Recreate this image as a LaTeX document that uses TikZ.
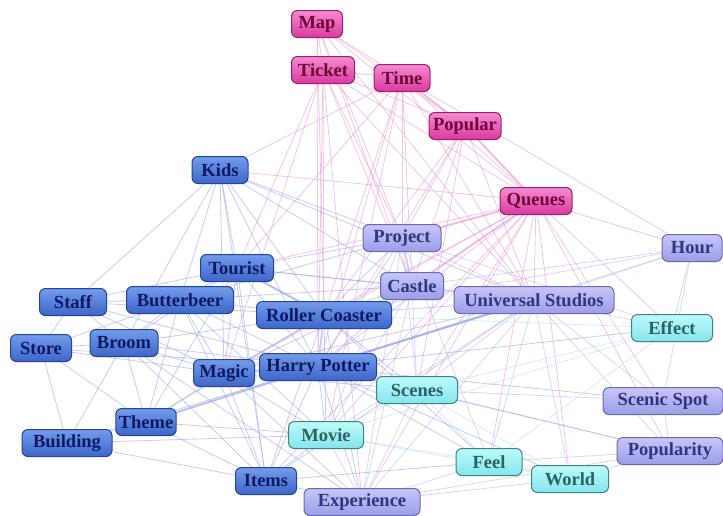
\documentclass[tikz,border=0pt]{standalone}
\usepackage{fontspec}
\setmainfont{Liberation Serif}
\usetikzlibrary{backgrounds}
\definecolor{pinktop}{HTML}{F58AD2}
\definecolor{pinkbot}{HTML}{DA3A9E}
\definecolor{pinkline}{HTML}{9C1E6E}
\definecolor{pinktext}{HTML}{6E0638}
\definecolor{bluetop}{HTML}{739CEC}
\definecolor{bluebot}{HTML}{3D66C9}
\definecolor{blueline}{HTML}{22449C}
\definecolor{bluetext}{HTML}{0B1A62}
\definecolor{lavtop}{HTML}{C6C6FA}
\definecolor{lavbot}{HTML}{9C9DE8}
\definecolor{lavline}{HTML}{6A6AAE}
\definecolor{lavtext}{HTML}{33347E}
\definecolor{cyantop}{HTML}{BDFAFA}
\definecolor{cyanbot}{HTML}{84E5EC}
\definecolor{cyanline}{HTML}{3E8484}
\definecolor{cyantext}{HTML}{2C6262}
\definecolor{edgepink}{HTML}{E696D4}
\definecolor{edgeblue}{HTML}{8E9BE6}
\definecolor{edgelav}{HTML}{B4AEEA}
\definecolor{edgecyan}{HTML}{A6DDF0}
\tikzset{
        word/.style={rounded corners=6pt, line width=1pt, inner xsep=3pt, inner ysep=0pt,
                minimum height=27pt, font=\fontsize{18.5}{20}\selectfont\bfseries},
        pinkword/.style={word, top color=pinktop, bottom color=pinkbot, draw=pinkline, text=pinktext},
        blueword/.style={word, top color=bluetop, bottom color=bluebot, draw=blueline, text=bluetext},
        lavword/.style={word, top color=lavtop, bottom color=lavbot, draw=lavline, text=lavtext},
        cyanword/.style={word, top color=cyantop, bottom color=cyanbot, draw=cyanline, text=cyantext},
        pinkedge/.style={draw=edgepink, line width=0.8pt, opacity=0.55},
        blueedge/.style={draw=edgeblue, line width=0.8pt, opacity=0.5},
        lavedge/.style={draw=edgelav, line width=0.8pt, opacity=0.5},
        cyanedge/.style={draw=edgecyan, line width=0.8pt, opacity=0.5},
        heavy/.style={line width=2.2pt, opacity=0.45}
}
\begin{document}
\begin{tikzpicture}[x=1pt, y=-1pt]
        \useasboundingbox (0,0) rectangle (723,515);
        \node[pinkword, minimum width=51pt] (map) at (317,24) {Map};
        \node[pinkword, minimum width=63pt] (ticket) at (323,70) {Ticket};
        \node[pinkword, minimum width=56pt] (time) at (402,78) {Time};
        \node[pinkword, minimum width=72pt] (popular) at (465,126) {Popular};
        \node[pinkword, minimum width=72pt] (queues) at (536,201) {Queues};
        \node[blueword, minimum width=56pt] (kids) at (220,170) {Kids};
        \node[lavword, minimum width=78pt] (project) at (402,238) {Project};
        \node[lavword, minimum width=60pt] (hour) at (692,248) {Hour};
        \node[blueword, minimum width=73pt] (tourist) at (237,268) {Tourist};
        \node[lavword, minimum width=63pt] (castle) at (412,286) {Castle};
        \node[lavword, minimum width=160pt] (us) at (534,300) {Universal Studios};
        \node[blueword, minimum width=67pt] (staff) at (73,302) {Staff};
        \node[blueword, minimum width=107pt] (butterbeer) at (180,300) {Butterbeer};
        \node[blueword, minimum width=135pt] (roller) at (324,315) {Roller Coaster};
        \node[cyanword, minimum width=81pt] (effect) at (672,328) {Effect};
        \node[blueword, minimum width=61pt] (store) at (41,348) {Store};
        \node[blueword, minimum width=68pt] (broom) at (124,343) {Broom};
        \node[blueword, minimum width=61pt] (magic) at (224,373) {Magic};
        \node[blueword, minimum width=117pt] (harry) at (318,367) {Harry Potter};
        \node[cyanword, minimum width=81pt] (scenes) at (417,390) {Scenes};
        \node[lavword, minimum width=120pt] (scenic) at (663,401) {Scenic Spot};
        \node[blueword, minimum width=60pt] (theme) at (146,422) {Theme};
        \node[blueword, minimum width=90pt] (building) at (67,443) {Building};
        \node[cyanword, minimum width=75pt] (movie) at (326,435) {Movie};
        \node[cyanword, minimum width=66pt] (feel) at (489,462) {Feel};
        \node[cyanword, minimum width=77pt] (world) at (570,479) {World};
        \node[lavword, minimum width=106pt] (popularity) at (670,451) {Popularity};
        \node[blueword, minimum width=61pt] (items) at (266,481) {Items};
        \node[lavword, minimum width=116pt] (experience) at (362,502) {Experience};
        \begin{scope}[on background layer]
                \foreach \a/\b in {map/ticket, map/time, map/popular, map/queues, map/project, map/castle,
                        map/harry, map/roller, map/us, ticket/time, ticket/popular, ticket/queues,
                        ticket/harry, ticket/roller, ticket/project, ticket/castle, ticket/us, ticket/magic,
                        ticket/tourist, ticket/experience, time/popular, time/queues, time/project,
                        time/castle, time/us, time/harry, time/roller, time/tourist, time/kids, time/hour,
                        time/movie, popular/queues, popular/us, popular/castle, popular/project,
                        popular/harry, popular/roller, popular/scenes, queues/project, queues/castle,
                        queues/us, queues/hour, queues/roller, queues/harry, queues/tourist, queues/kids,
                        queues/magic, queues/effect, queues/scenes, queues/feel, queues/world,
                        queues/popularity, queues/scenic, queues/experience, queues/movie, queues/items}
                        \draw[pinkedge] (\a.center) -- (\b.center);
                \foreach \a/\b in {kids/tourist, kids/butterbeer, kids/staff, kids/roller, kids/harry,
                        kids/magic, kids/project, kids/castle, kids/us, kids/broom, kids/items,
                        tourist/butterbeer, tourist/roller, tourist/harry, tourist/magic, tourist/project,
                        tourist/castle, tourist/us, tourist/broom, tourist/staff, tourist/theme,
                        tourist/items, staff/butterbeer, staff/broom, staff/store, staff/harry,
                        staff/roller, staff/magic, butterbeer/broom, butterbeer/store, butterbeer/harry,
                        butterbeer/roller, butterbeer/magic, butterbeer/theme, butterbeer/movie,
                        butterbeer/project, butterbeer/items, butterbeer/castle, roller/magic,
                        roller/project, roller/castle, roller/us, roller/broom, roller/theme,
                        roller/scenes, roller/experience, roller/movie, roller/items, roller/feel,
                        store/broom, store/magic, store/harry, store/building, store/theme,
                        broom/magic, broom/harry, broom/theme, broom/building, broom/items,
                        broom/experience, magic/theme, magic/items, magic/movie, magic/experience,
                        magic/scenes, magic/us, magic/castle, harry/movie, harry/scenes, harry/items,
                        harry/experience, harry/us, harry/castle, harry/project, harry/feel, harry/world,
                        harry/scenic, harry/popularity, harry/effect, harry/building, theme/building,
                        theme/movie, theme/items, theme/us, building/items, building/movie,
                        items/movie, items/experience, items/feel, items/us}
                        \draw[blueedge] (\a.center) -- (\b.center);
                \foreach \a/\b in {project/castle, project/us, project/experience, project/feel,
                        project/scenes, project/movie, project/effect, castle/us, castle/scenes,
                        castle/experience, castle/movie, us/hour, us/effect, us/scenes, us/scenic,
                        us/popularity, us/feel, us/world, us/experience, us/movie, hour/effect,
                        hour/scenic, hour/harry, hour/castle, hour/roller, scenic/popularity,
                        scenic/scenes, popularity/world, popularity/feel, popularity/scenes,
                        popularity/experience, experience/feel, experience/world, experience/movie,
                        experience/scenes}
                        \draw[lavedge] (\a.center) -- (\b.center);
                \foreach \a/\b in {effect/scenes, effect/movie, effect/feel, effect/roller,
                        scenes/movie, scenes/feel, scenes/world, movie/feel, movie/world, feel/world}
                        \draw[cyanedge] (\a.center) -- (\b.center);
                \draw[blueedge, heavy] (harry.center) -- (roller.center);
                \draw[blueedge, heavy] (harry.center) -- (magic.center);
                \draw[blueedge, heavy] (harry.center) -- (theme.center);
                \draw[blueedge, heavy] (harry.center) -- (us.center);
                \draw[blueedge, heavy] (roller.center) -- (tourist.center);
                \draw[pinkedge, heavy] (queues.center) -- (castle.center);
                \draw[pinkedge, heavy] (queues.center) -- (project.center);
                \draw[pinkedge, heavy] (time.center) -- (popular.center);
                \draw[pinkedge, heavy] (popular.center) -- (queues.center);
                \draw[lavedge, heavy] (project.center) -- (castle.center);
        \end{scope}
\end{tikzpicture}
\end{document}
